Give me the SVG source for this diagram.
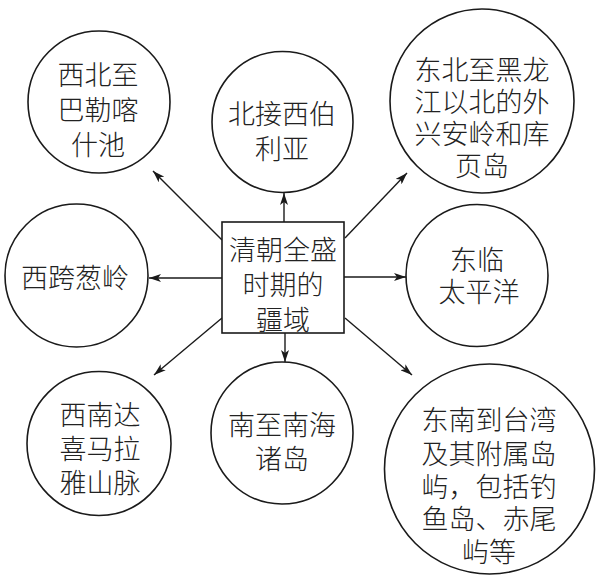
<svg xmlns="http://www.w3.org/2000/svg" width="598" height="578" viewBox="0 0 598 578">
<defs>
<marker id="ah" viewBox="0 0 12 8" refX="12" refY="4" markerWidth="12" markerHeight="8" markerUnits="userSpaceOnUse" orient="auto">
<path d="M0,0 L12,4 L0,8 L3,4 Z" fill="#1a1a1a"/>
</marker>
</defs>
<style>
.n{fill:#fff;stroke:#1a1a1a;stroke-width:1.6}
.t{font-family:"Noto Sans CJK SC","Noto Sans CJK JP",sans-serif;font-size:27px;font-weight:300;fill:#222;text-anchor:middle;dominant-baseline:central}
.c{stroke:#1a1a1a;stroke-width:1.4;fill:none;marker-end:url(#ah)}
</style>
<rect width="598" height="578" fill="#fff"/>
<g id="connectors">
<line class="c" x1="222" y1="240" x2="153" y2="171"/>
<line class="c" x1="284" y1="222" x2="284" y2="193"/>
<line class="c" x1="345" y1="238" x2="407" y2="173"/>
<line class="c" x1="222" y1="278" x2="149" y2="278"/>
<line class="c" x1="344" y1="277" x2="406" y2="277"/>
<line class="c" x1="222" y1="318" x2="154" y2="375"/>
<line class="c" x1="285" y1="333" x2="285" y2="362"/>
<line class="c" x1="345" y1="318" x2="412" y2="375"/>
</g>
<g id="center">
<rect class="n" x="222" y="222" width="122" height="111"/>
<text class="t" x="283" y="248">清朝全盛</text>
<text class="t" x="283" y="283">时期的</text>
<text class="t" x="283" y="318">疆域</text>
</g>
<g id="nw">
<circle class="n" cx="99" cy="102" r="71"/>
<text class="t" x="98" y="73">西北至</text>
<text class="t" x="98" y="108">巴勒喀</text>
<text class="t" x="98" y="143">什池</text>
</g>
<g id="n">
<circle class="n" cx="282.5" cy="122" r="70.5"/>
<text class="t" x="282" y="112">北接西伯</text>
<text class="t" x="282" y="147">利亚</text>
</g>
<g id="ne">
<circle class="n" cx="482" cy="101" r="92"/>
<text class="t" x="482" y="68">东北至黑龙</text>
<text class="t" x="482" y="100">江以北的外</text>
<text class="t" x="482" y="132">兴安岭和库</text>
<text class="t" x="482" y="164">页岛</text>
</g>
<g id="w">
<circle class="n" cx="76.5" cy="275.5" r="71.5"/>
<text class="t" x="75" y="276">西跨葱岭</text>
</g>
<g id="e">
<circle class="n" cx="477" cy="275.5" r="71"/>
<text class="t" x="477" y="258">东临</text>
<text class="t" x="479" y="290">太平洋</text>
</g>
<g id="sw">
<circle class="n" cx="99" cy="443.5" r="72"/>
<text class="t" x="100" y="413">西南达</text>
<text class="t" x="100" y="447">喜马拉</text>
<text class="t" x="100" y="481">雅山脉</text>
</g>
<g id="s">
<circle class="n" cx="282" cy="433" r="71"/>
<text class="t" x="282" y="423">南至南海</text>
<text class="t" x="282" y="457">诸岛</text>
</g>
<g id="se">
<circle class="n" cx="489.5" cy="469" r="105"/>
<text class="t" x="489" y="418">东南到台湾</text>
<text class="t" x="489" y="452">及其附属岛</text>
<text class="t" x="489" y="485">屿，包括钓</text>
<text class="t" x="489" y="517">鱼岛、赤尾</text>
<text class="t" x="489" y="550">屿等</text>
</g>
</svg>
